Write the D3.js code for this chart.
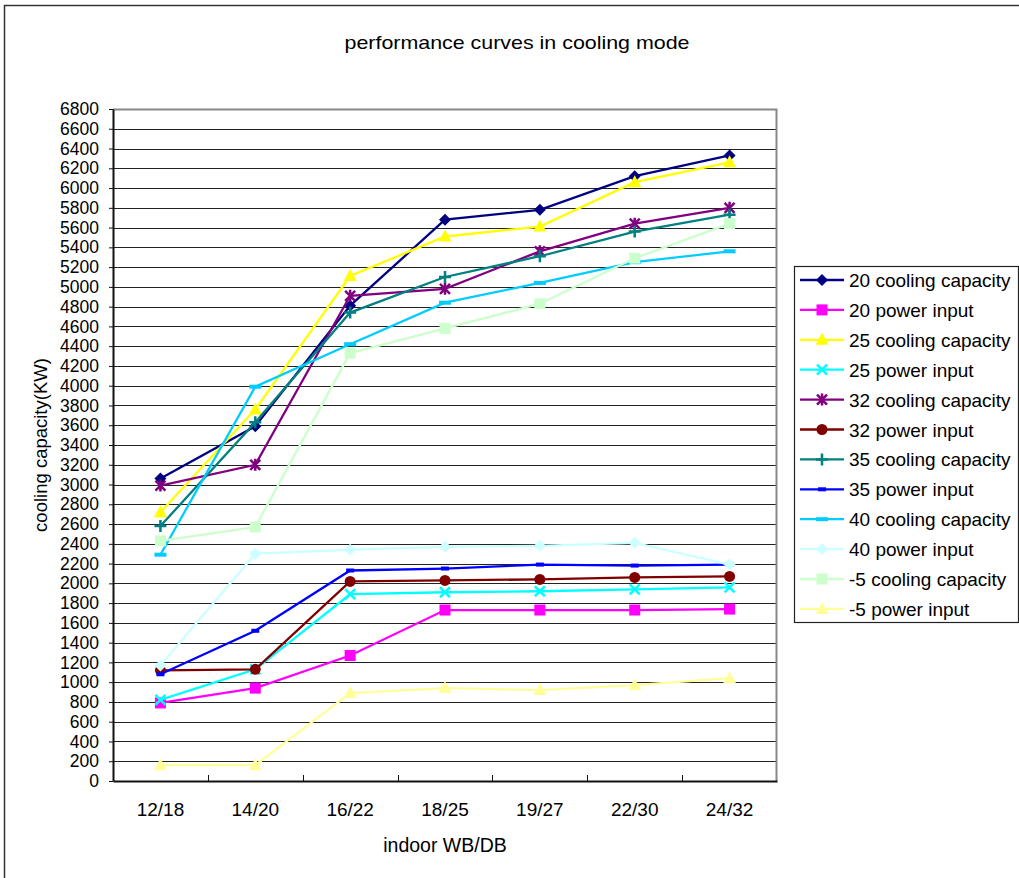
<!DOCTYPE html>
<html><head><meta charset="utf-8">
<script src="https://cdn.jsdelivr.net/npm/d3@7"></script>
<style>
html,body{margin:0;padding:0;background:#fff;}
svg{display:block;font-family:"Liberation Sans",Arial,sans-serif;}
</style></head>
<body>
<svg id="chart" width="1019" height="878"></svg>
<script>
const categories = ["12/18","14/20","16/22","18/25","19/27","22/30","24/32"];
const seriesNames = ["20 cooling capacity","20 power input","25 cooling capacity","25 power input","32 cooling capacity","32 power input","35 cooling capacity","35 power input","40 cooling capacity","40 power input","-5 cooling capacity","-5 power input"];
const cool20 = [3060,3590,4810,5680,5780,6120,6330];
const power20 = [790,940,1270,1730,1730,1730,1740];
const cool25 = [2720,3760,5110,5510,5610,6060,6260];
const power25 = [820,1130,1890,1910,1920,1940,1960];
const cool32 = [2990,3200,4910,4980,5360,5640,5800];
const power32 = [1120,1130,2020,2030,2040,2060,2070];
const cool35 = [2580,3630,4740,5100,5310,5560,5730];
const power35 = [1080,1520,2130,2150,2190,2180,2190];
const cool40 = [2290,3990,4420,4840,5040,5250,5360];
const power40 = [1170,2300,2340,2370,2380,2410,2190];
const coolM5 = [2430,2570,4330,4580,4830,5290,5640];
const powerM5 = [160,160,890,940,920,970,1040];
const yTicks = d3.range(0, 6801, 200);
const title = "performance curves in cooling mode";
const xTitle = "indoor WB/DB";
const yTitle = "cooling capacity(KW)";

const seriesValues = [cool20,power20,cool25,power25,cool32,power32,cool35,power35,cool40,power40,coolM5,powerM5];
const colors = ["#000080","#ff00ff","#ffff00","#00ffff","#800080","#800000","#008080","#0000ff","#00ccff","#ccffff","#ccffcc","#ffff99"];
const markers = ["diamond","square","triangle","x","star","circle","plus","smalldash","dash","diamond","square","triangle"];

const FONT = "'Liberation Sans',Arial,sans-serif";
const svg = d3.select("#chart");
// outer frame
svg.append("rect").attr("x",4.5).attr("y",5.5).attr("width",1030).attr("height",890)
  .attr("fill","none").attr("stroke","#333").attr("stroke-width",1.5);

const L=113, R=777, T=109, B=781;
const x = d3.scaleBand().domain(categories).range([L,R]);
const y = d3.scaleLinear().domain([0,6800]).range([B,T]);

// gridlines
svg.append("g").selectAll("line").data(yTicks.filter(d=>d>0)).join("line")
  .attr("x1",L).attr("x2",R).attr("y1",d=>Math.round(y(d))+0.5).attr("y2",d=>Math.round(y(d))+0.5)
  .attr("stroke","#222").attr("stroke-width",1);
// plot border (top/right grey)
svg.append("path").attr("d",`M${L},${T+0.5}H${R-0.5}V${B}`).attr("fill","none").attr("stroke","#888").attr("stroke-width",2);

// axes
const yAxis = svg.append("g").attr("transform",`translate(${L},0)`)
  .call(d3.axisLeft(y).tickValues(yTicks).tickFormat(d3.format("d")).tickSize(4).tickSizeOuter(0));
yAxis.select(".domain").attr("stroke","#111").attr("stroke-width",2);
yAxis.selectAll(".tick line").attr("stroke","#111");
yAxis.selectAll(".tick text").attr("x",-14).attr("font-size",17.5).attr("fill","#000")
  .attr("font-family",FONT);

const xAxis = svg.append("g").attr("transform",`translate(0,${B})`)
  .call(d3.axisBottom(x).tickSize(0).tickSizeOuter(0));
xAxis.select(".domain").attr("stroke","#111").attr("stroke-width",2);
xAxis.selectAll(".tick text").attr("y",22).attr("font-size",19).attr("fill","#000")
  .attr("font-family",FONT);
// category separator ticks
svg.append("g").selectAll("line").data(categories).join("line")
  .attr("x1",d=>Math.round(x(d))+0.5).attr("x2",d=>Math.round(x(d))+0.5)
  .attr("y1",B).attr("y2",B-6).attr("stroke","#111").attr("stroke-width",1);

// titles
svg.append("text").attr("x",517).attr("y",49).attr("text-anchor","middle").attr("font-size",19)
  .attr("textLength",345).attr("lengthAdjust","spacingAndGlyphs").text(title);
svg.append("text").attr("x",(L+R)/2).attr("y",852).attr("text-anchor","middle").attr("font-size",19.5).text(xTitle);
svg.append("text").attr("transform",`translate(47,${(T+B)/2}) rotate(-90)`).attr("text-anchor","middle").attr("font-size",18.5).text(yTitle);

function drawMarker(g, type, color, cx, cy, scale){
  const s = scale||1;
  if(type==="diamond"){
    g.append("path").attr("d",`M${cx},${cy-6*s}L${cx+6*s},${cy}L${cx},${cy+6*s}L${cx-6*s},${cy}Z`).attr("fill",color);
  } else if(type==="square"){
    g.append("rect").attr("x",cx-5.5*s).attr("y",cy-5.5*s).attr("width",11*s).attr("height",11*s).attr("fill",color);
  } else if(type==="triangle"){
    g.append("path").attr("d",`M${cx},${cy-7*s}L${cx+6.5*s},${cy+5*s}L${cx-6.5*s},${cy+5*s}Z`).attr("fill",color);
  } else if(type==="x"){
    g.append("path").attr("d",`M${cx-5*s},${cy-5*s}L${cx+5*s},${cy+5*s}M${cx-5*s},${cy+5*s}L${cx+5*s},${cy-5*s}`).attr("stroke",color).attr("stroke-width",2.5);
  } else if(type==="star"){
    g.append("path").attr("d",`M${cx-5*s},${cy-5*s}L${cx+5*s},${cy+5*s}M${cx-5*s},${cy+5*s}L${cx+5*s},${cy-5*s}M${cx},${cy-6*s}L${cx},${cy+6*s}`).attr("stroke",color).attr("stroke-width",2.5);
  } else if(type==="circle"){
    g.append("circle").attr("cx",cx).attr("cy",cy).attr("r",5.5*s).attr("fill",color);
  } else if(type==="plus"){
    g.append("path").attr("d",`M${cx-6*s},${cy}L${cx+6*s},${cy}M${cx},${cy-6*s}L${cx},${cy+6*s}`).attr("stroke",color).attr("stroke-width",2.5);
  } else if(type==="smalldash"){
    g.append("rect").attr("x",cx-4*s).attr("y",cy-2*s).attr("width",8*s).attr("height",4*s).attr("fill",color);
  } else if(type==="dash"){
    g.append("rect").attr("x",cx-6*s).attr("y",cy-2*s).attr("width",12*s).attr("height",4*s).attr("fill",color);
  }
}

const line = d3.line().x((d,i)=>x(categories[i])+x.bandwidth()/2).y(d=>y(d));
const plot = svg.append("g");
seriesValues.forEach((vals,si)=>{
  const g = plot.append("g");
  g.append("path").attr("d",line(vals)).attr("fill","none").attr("stroke",colors[si]).attr("stroke-width",2.3);
  vals.forEach((v,i)=>drawMarker(g, markers[si], colors[si], x(categories[i])+x.bandwidth()/2, y(v)));
});

// legend
const lg = svg.append("g");
lg.append("rect").attr("x",794.5).attr("y",266.5).attr("width",224).attr("height",356)
  .attr("fill","#fff").attr("stroke","#222").attr("stroke-width",1.2);
seriesNames.forEach((name,i)=>{
  const cy = 280 + i*29.9;
  lg.append("line").attr("x1",800).attr("x2",844).attr("y1",cy).attr("y2",cy).attr("stroke",colors[i]).attr("stroke-width",2.3);
  drawMarker(lg, markers[i], colors[i], 822, cy);
  lg.append("text").attr("x",849).attr("y",cy+7).attr("font-size",19).text(name);
});
</script>
</body></html>
